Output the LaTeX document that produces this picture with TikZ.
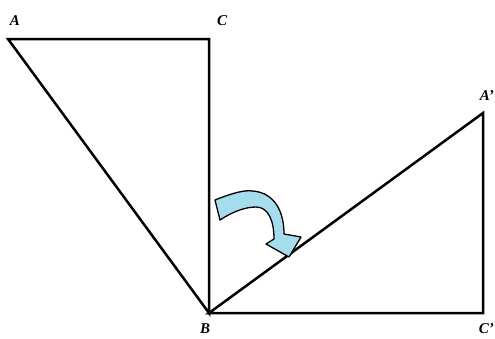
\documentclass[tikz,border=0pt]{standalone}
\usepackage{fontspec}
\setmainfont{Liberation Serif}
\usepackage{xcolor}
\definecolor{arrowblue}{RGB}{166,221,236}
\begin{document}
\begin{tikzpicture}[x=1pt,y=-1pt,
  edge/.style={line width=2.5pt,line join=miter},
  lbl/.style={font=\fontsize{15}{17}\selectfont\bfseries\itshape,inner sep=0pt},
  turnarrow/.style={draw=black,line width=1.3pt,fill=arrowblue,line join=round}]
\useasboundingbox (0,0) rectangle (495,338);
\coordinate (A) at (8,39);
\coordinate (C) at (209,39);
\coordinate (B) at (209,313);
\coordinate (A2) at (483,113);
\coordinate (C2) at (483,313);
\draw[edge] (A) -- (C) -- (B) -- cycle;
\draw[edge] (B) -- (A2) -- (C2) -- cycle;
\node[lbl] (lA) at (15,21) {A};
\node[lbl] (lC) at (222,21) {C};
\node[lbl] (lB) at (205,329) {B};
\node[lbl,anchor=east] (lA2) at (494,96) {A\textquoteright};
\node[lbl,anchor=east] (lC2) at (494,329) {C\textquoteright};
\draw[turnarrow] (215,200) .. controls (235,192) and (245,190) .. (253,191)
  .. controls (275,193) and (284,212) .. (284,234)
  -- (301,237) -- (289,257) -- (266,244) -- (274,239)
  .. controls (274,220) and (268,207) .. (256,207)
  .. controls (245,207) and (232,212) .. (220,220) -- cycle;
\end{tikzpicture}
\end{document}
